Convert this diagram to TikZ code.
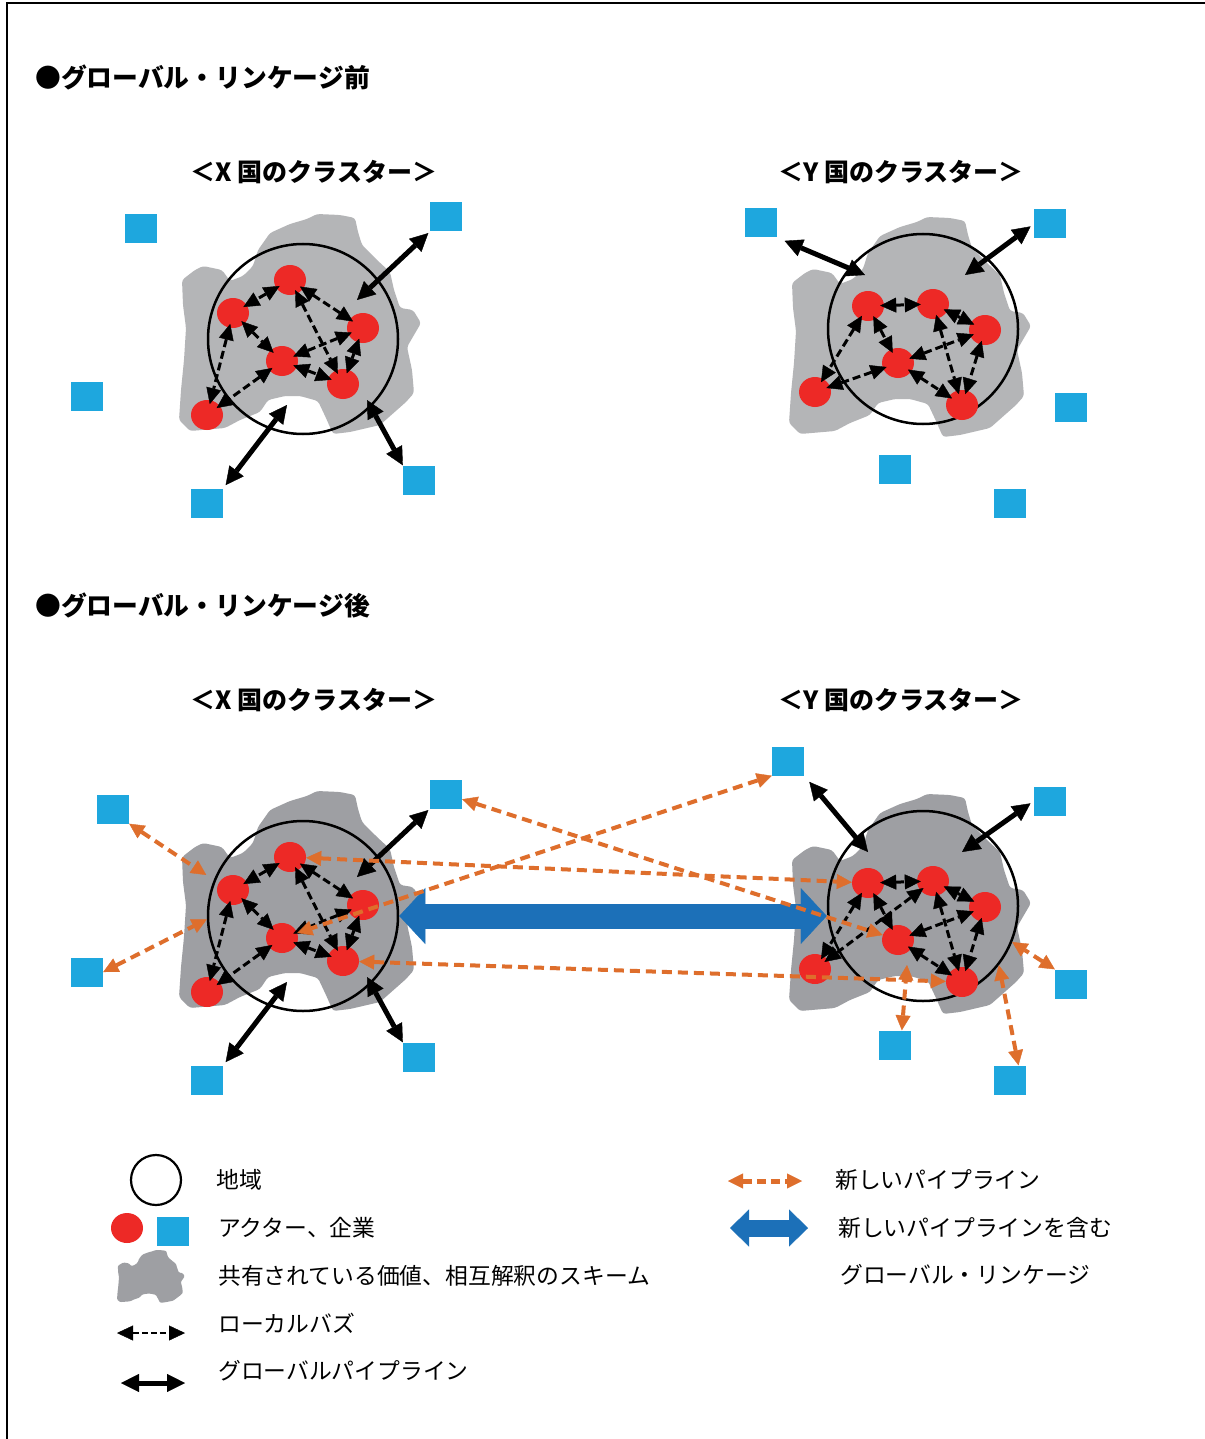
\documentclass[tikz,border=0pt]{standalone}
\usepackage{fontspec}
\setmainfont{Noto Sans CJK JP}
\usetikzlibrary{arrows.meta,shapes.geometric}
\definecolor{actred}{RGB}{237,41,38}
\definecolor{firmblue}{RGB}{30,167,222}
\definecolor{pipeor}{RGB}{222,110,44}
\definecolor{linkblue}{RGB}{28,112,184}
\definecolor{blobA}{RGB}{180,181,183}
\definecolor{blobB}{RGB}{158,159,163}
\tikzset{
  actor/.style={ellipse, fill=actred, minimum width=32pt, minimum height=30pt, inner sep=0pt},
  firm/.style={rectangle, fill=firmblue, minimum width=32pt, minimum height=29pt, inner sep=0pt},
  region/.style={circle, draw=black, line width=2.5pt, minimum size=190pt, inner sep=0pt},
  buzz/.style={draw=black, line width=3pt, dash pattern=on 8pt off 4pt,
    {Triangle[length=16pt,width=15pt,line width=0.4pt]}-{Triangle[length=16pt,width=15pt,line width=0.4pt]},
    shorten >=-4pt, shorten <=-4pt},
  gpipe/.style={draw=black, line width=5pt,
    {Triangle[length=18pt,width=18pt,line width=0.4pt]}-{Triangle[length=18pt,width=18pt,line width=0.4pt]}},
  npipe/.style={draw=pipeor, line width=4pt, dash pattern=on 10pt off 6pt,
    {Triangle[length=15pt,width=15pt,line width=0.4pt]}-{Triangle[length=15pt,width=15pt,line width=0.4pt]}},
  glink/.style={draw=linkblue, line width=25pt,
    {Triangle[length=26pt,width=56pt,line width=0.4pt]}-{Triangle[length=26pt,width=56pt,line width=0.4pt]}},
  head/.style={font=\bfseries\fontsize{25.8}{28}\selectfont, anchor=west, inner sep=0pt},
  ctitle/.style={font=\bfseries\fontsize{25}{28}\selectfont, inner sep=0pt},
  legtext/.style={font=\fontsize{22.8}{26}\selectfont, anchor=west, inner sep=0pt},
}
\newcommand\blob[2]{%
  \fill[rounded corners=3pt, shift={#2}, #1] (84,29) -- (91,19) -- (111,10) -- (128,5) -- (138,0) -- (161,1) -- (176,4) -- (179,18) -- (183,31) -- (198,46) -- (211,58) -- (215,76) -- (221,94) -- (234,96) -- (242,109) -- (235,121) -- (228,133) -- (233,156) -- (235,179) -- (227,188) -- (201,211) -- (171,218) -- (154,220) -- (147,204) -- (139,187) -- (121,182) -- (106,182) -- (89,186) -- (81,198) -- (61,206) -- (46,214) -- (11,217) -- (0,206) -- (2,176) -- (5,146) -- (7,114) -- (4,91) -- (3,66) -- (16,56) -- (24,52) -- (43,56) -- (51,67) -- (64,62) -- (74,52) -- (79,36) -- cycle;}
\newcommand\Xcluster[3]{%
  \blob{#3}{(179,214+#2)}
  \node[region] (Xc#1) at (303,339+#2) {};
  \node[actor] (xa#1) at (290,280+#2) {};
  \node[actor] (xb#1) at (233,313+#2) {};
  \node[actor] (xc#1) at (363,328+#2) {};
  \node[actor] (xd#1) at (282,361+#2) {};
  \node[actor] (xe#1) at (343,384+#2) {};
  \node[actor] (xf#1) at (207,415+#2) {};
  \draw[buzz] (xa#1) -- (xb#1);
  \draw[buzz] (xa#1) -- (xc#1);
  \draw[buzz] (xa#1) -- (xe#1);
  \draw[buzz] (xb#1) -- (xd#1);
  \draw[buzz] (xb#1) -- (xf#1);
  \draw[buzz] (xd#1) -- (xc#1);
  \draw[buzz] (xd#1) -- (xe#1);
  \draw[buzz] (xc#1) -- (xe#1);
  \draw[buzz] (xd#1) -- (xf#1);
}
\newcommand\Ycluster[3]{%
  \blob{#3}{(789,217+#2)}
  \node[region] (Yc#1) at (923,329+#2) {};
  \node[actor] (yp#1) at (868,306+#2) {};
  \node[actor] (yq#1) at (933,304+#2) {};
  \node[actor] (yr#1) at (985,330+#2) {};
  \node[actor] (ys#1) at (898,363+#2) {};
  \node[actor] (yt#1) at (962,405+#2) {};
  \node[actor] (yu#1) at (815,392+#2) {};
  \draw[buzz] (yp#1) -- (yq#1);
  \draw[buzz] (yp#1) -- (yu#1);
  \draw[buzz] (yp#1) -- (ys#1);
  \draw[buzz] (yq#1) -- (yt#1);
  \draw[buzz] (yq#1) -- (yr#1);
  \draw[buzz] (ys#1) -- (yr#1);
  \draw[buzz] (ys#1) -- (yt#1);
  \draw[buzz] (yr#1) -- (yt#1);
}
\begin{document}
\begin{tikzpicture}[x=1pt, y=-1pt]
\useasboundingbox (0,0) rectangle (1204,1439);
\fill[white] (0,0) rectangle (1204,1439);
\draw[line width=2.6pt] (7,1442) -- (7,3) -- (1206,3);

% headings
\node[head] (h1) at (35,77) {●グローバル・リンケージ前};
\node[head] (h2) at (35,605) {●グローバル・リンケージ後};
\node[ctitle] (t1) at (314,172) {＜X 国のクラスター＞};
\node[ctitle] (t2) at (901,172) {＜Y 国のクラスター＞};
\node[ctitle] (t3) at (314,700) {＜X 国のクラスター＞};
\node[ctitle] (t4) at (901,700) {＜Y 国のクラスター＞};

% ===== before =====
\Xcluster{1}{0}{blobA}
\Ycluster{1}{0}{blobA}
\draw[buzz] (ys1) -- (yu1);

\node[firm] (sxa) at (446,217) {};
\node[firm] (sxb) at (141,229) {};
\node[firm] (sxc) at (87,396) {};
\node[firm] (sxd) at (207,503) {};
\node[firm] (sxe) at (419,480) {};
\node[firm] (sya) at (761,223) {};
\node[firm] (syb) at (1050,224) {};
\node[firm] (syc) at (1071,407) {};
\node[firm] (syd) at (895,469) {};
\node[firm] (sye) at (1010,503) {};

\coordinate (gx1) at (357,300);
\coordinate (gx2) at (287,405);
\coordinate (gx3) at (367,400);
\coordinate (gy1) at (865,275);
\coordinate (gy2) at (965,275);
\draw[gpipe, shorten >=2pt] (gx1) -- (sxa.south west);
\draw[gpipe, shorten >=4pt] (gx2) -- (sxd.north east);
\draw[gpipe] (gx3) -- (sxe.north west);
\draw[gpipe, shorten >=8pt] (gy1) -- (sya.south east);
\draw[gpipe, shorten >=4pt] (gy2) -- (syb.west);

% ===== after =====
\Xcluster{2}{577}{blobB}
\Ycluster{2}{577}{blobB}
\draw[buzz] (yq2) -- (yu2);

\node[firm] (bxa) at (113,809) {};
\node[firm] (bxb) at (446,794) {};
\node[firm] (bxc) at (87,972) {};
\node[firm] (bxd) at (207,1080) {};
\node[firm] (bxe) at (419,1057) {};
\node[firm] (bya) at (788,761) {};
\node[firm] (byb) at (1050,801) {};
\node[firm] (byc) at (1071,984) {};
\node[firm] (byd) at (895,1045) {};
\node[firm] (bye) at (1010,1080) {};

\coordinate (hx1) at (357,877);
\coordinate (hx2) at (287,982);
\coordinate (hx3) at (367,977);
\coordinate (hy1) at (868,852);
\coordinate (hy2) at (962,852);
\draw[gpipe, shorten >=2pt] (hx1) -- (bxb.south west);
\draw[gpipe, shorten >=4pt] (hx2) -- (bxd.north east);
\draw[gpipe] (hx3) -- (bxe.north west);
\draw[gpipe, shorten >=8pt] (hy1) -- (bya.south east);
\draw[gpipe, shorten >=4pt] (hy2) -- (byb.west);

% global linkage
\draw[glink] (Xc2.east) -- (Yc2.west |- Xc2.east);

% new pipelines
\coordinate (o1) at (907,965);
\draw[npipe, shorten >=9pt] (bxa.south east) -- (Xc2.158);
\draw[npipe] (bxc.east) -- (Xc2.182);
\draw[npipe] (xa2) -- (yp2);
\draw[npipe] (xe2) -- (yt2);
\draw[npipe] (bxb) -- (ys2);
\draw[npipe] (bya.south west) -- (xd2);
\draw[npipe] (byc.north west) -- (Yc2.-22);
\draw[npipe] (byd.65) -- (o1);
\draw[npipe] (bye.60) -- (Yc2.-38);

% ===== legend =====
\node[region, minimum size=50pt, line width=2.2pt] (lgc) at (156,1180) {};
\node[actor] (lga) at (127,1228) {};
\node[firm] (lgf) at (173,1231) {};
\blob{blobB, xscale=0.28, yscale=0.24, rounded corners=1pt}{(117,1250)}
\coordinate (lb1) at (117,1333);
\coordinate (lb2) at (185,1333);
\draw[buzz, line width=2.6pt, dash pattern=on 6pt off 3pt, shorten >=0pt, shorten <=0pt] (lb1) -- (lb2);
\coordinate (lg1) at (121,1383);
\coordinate (lg2) at (185,1383);
\draw[gpipe] (lg1) -- (lg2);
\coordinate (ln1) at (728,1181);
\coordinate (ln2) at (802,1181);
\draw[npipe, line width=5pt, dash pattern=on 9pt off 5pt] (ln1) -- (ln2);
\coordinate (ll1) at (730,1228);
\coordinate (ll2) at (808,1228);
\draw[draw=linkblue, line width=17pt,
  {Triangle[length=19pt,width=37pt,line width=0.4pt]}-{Triangle[length=19pt,width=37pt,line width=0.4pt]}] (ll1) -- (ll2);

\node[legtext] (lt1) at (216,1180) {地域};
\node[legtext] (lt2) at (218,1228) {アクター、企業};
\node[legtext] (lt3) at (218,1276) {共有されている価値、相互解釈のスキーム};
\node[legtext] (lt4) at (218,1323) {ローカルバズ};
\node[legtext] (lt5) at (218,1371) {グローバルパイプライン};
\node[legtext] (lt6) at (835,1180) {新しいパイプライン};
\node[legtext] (lt7) at (838,1228) {新しいパイプラインを含む};
\node[legtext] (lt8) at (840,1275) {グローバル・リンケージ};
\end{tikzpicture}
\end{document}
